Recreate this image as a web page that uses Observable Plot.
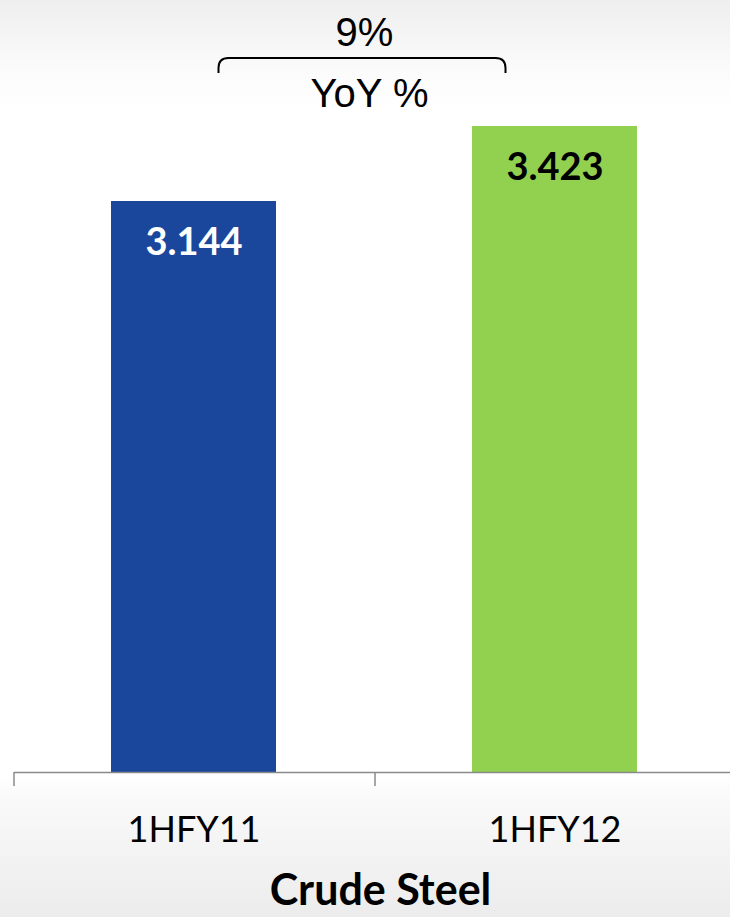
<!DOCTYPE html>
<html>
<head>
<meta charset="utf-8">
<script src="https://cdn.jsdelivr.net/npm/d3@7"></script>
<script src="https://cdn.jsdelivr.net/npm/@observablehq/plot@0.6"></script>
<style>
  html, body { margin: 0; padding: 0; }
  body {
    width: 730px; height: 917px; overflow: hidden; color: #000;
    background: linear-gradient(to bottom, #eeeeee 0px, #fbfbfb 70px, #ffffff 110px, #ffffff 774px, #f9f9f9 800px, #f0f0f0 880px, #ececec 917px);
  }
  #chart svg { display: block; }
</style>
</head>
<body>
<div id="chart"></div>
<script>
// ---- data ----
const categories = ["1HFY11", "1HFY12"];
const values = [3.144, 3.423];
const barColors = ["#1a479c", "#92d050"];
const labelColors = ["#ffffff", "#000000"];
const yoyValue = "9%";
const yoyLabel = "YoY %";
const chartTitle = "Crude Steel";
const yMin = 1.02;

const data = categories.map((c, i) => ({category: c, value: values[i], labelColor: labelColors[i]}));

const bodyFont = "Lato, 'Open Sans', sans-serif";
const arialFont = "'Liberation Sans', Arial, sans-serif";

const bracketAndTicks = (index, scales, channels, dimensions) => {
  const x = scales.x;
  let bw = x.bandwidth;
  if (typeof bw === "function") bw = bw();
  if (bw == null || isNaN(bw)) bw = x(categories[1]) - x(categories[0]);
  const g = d3.create("svg:g");
  const bottom = dimensions.height - dimensions.marginBottom;
  // ticks at category boundaries
  for (const c of categories) {
    g.append("line")
      .attr("x1", x(c)).attr("x2", x(c))
      .attr("y1", bottom).attr("y2", bottom + 14)
      .attr("stroke", "#8a8a8a").attr("stroke-width", 1.5);
  }
  // bracket between the two bars
  const L = x(categories[0]) + bw / 2 + 24;
  const R = x(categories[1]) + bw / 2 - 50;
  const yLine = dimensions.marginTop - 68;
  const yEnd = dimensions.marginTop - 53;
  const r = 10;
  g.append("path")
    .attr("d", `M${L},${yEnd}V${yLine + r}Q${L},${yLine} ${L + r},${yLine}H${R - r}Q${R},${yLine} ${R},${yLine + r}V${yEnd}`)
    .attr("fill", "none").attr("stroke", "#000").attr("stroke-width", 2);
  return g.node();
};

const chart = Plot.plot({
  width: 730,
  height: 917,
  marginTop: 126,
  marginBottom: 145,
  marginLeft: 14,
  marginRight: 0,
  style: {background: "transparent", overflow: "visible"},
  x: {domain: categories, range: [14, 736], padding: 0, axis: null},
  y: {domain: [yMin, values[1]], axis: null},
  color: {domain: categories, range: barColors},
  marks: [
    Plot.barY(data, {x: "category", y1: () => yMin, y2: "value", fill: "category", insetLeft: 97, insetRight: 99}),
    Plot.ruleY([yMin], {stroke: "#8a8a8a", strokeWidth: 1.5}),
    ...data.map(d => Plot.text([d], {
      x: "category", y: "value", text: v => v.value.toFixed(3),
      lineAnchor: "top", dy: 27, dx: -1, fontSize: 38, fontWeight: "bold",
      fontFamily: bodyFont, fill: d.labelColor
    })),
    Plot.text(categories, {
      x: d => d, text: d => d, frameAnchor: "bottom", lineAnchor: "top",
      dy: 44, dx: -1, fontSize: 36, fontFamily: bodyFont, fill: "#000"
    }),
    Plot.text([chartTitle], {
      text: d => d, frameAnchor: "bottom", lineAnchor: "top",
      dy: 102, dx: 8, fontSize: 43, fontWeight: "bold", fontFamily: bodyFont, fill: "#000"
    }),
    Plot.text([yoyValue], {
      text: d => d, frameAnchor: "top", lineAnchor: "top",
      dy: -109, dx: -8, fontSize: 40, fontFamily: arialFont, fill: "#000"
    }),
    Plot.text([yoyLabel], {
      text: d => d, frameAnchor: "top", lineAnchor: "top",
      dy: -48, dx: -3, fontSize: 40, fontFamily: arialFont, fill: "#000"
    }),
    bracketAndTicks
  ]
});
document.getElementById("chart").append(chart);
</script>
</body>
</html>
